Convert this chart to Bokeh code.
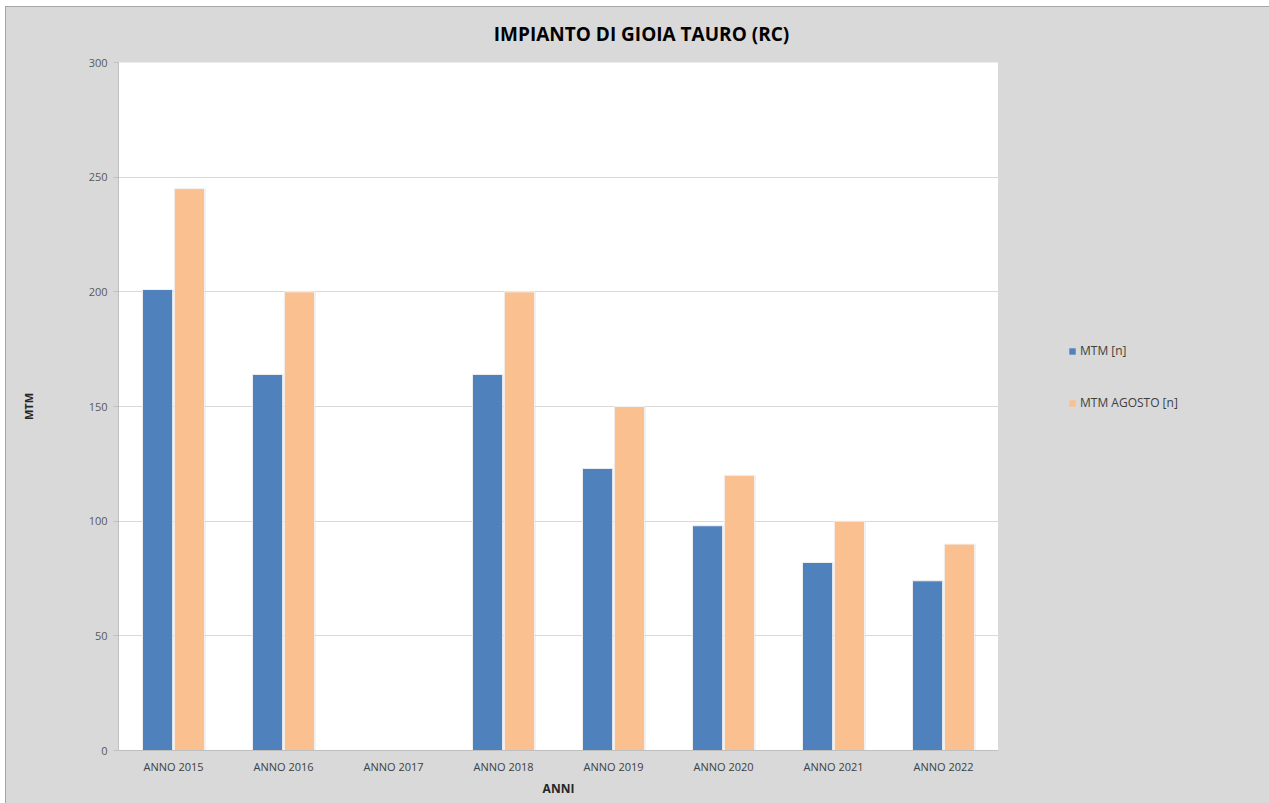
from bokeh.plotting import figure
from bokeh.layouts import row, column
from bokeh.models import (ColumnDataSource, Range1d, FixedTicker, Legend, LegendItem, Label)
from bokeh.transform import dodge
from bokeh.embed import file_html
from bokeh.resources import INLINE

# Data: yearly MTM counts at the Gioia Tauro plant
categories = ["ANNO 2015", "ANNO 2016", "ANNO 2017", "ANNO 2018",
              "ANNO 2019", "ANNO 2020", "ANNO 2021", "ANNO 2022"]
mtm = [201, 164, None, 164, 123, 98, 82, 74]
mtm_agosto = [245, 200, None, 200, 150, 120, 100, 90]
y_ticks = [0, 50, 100, 150, 200, 250, 300]
series_names = ["MTM [n]", "MTM AGOSTO [n]"]
chart_title = "IMPIANTO DI GIOIA TAURO (RC)"

BLUE = "#4f81bd"
ORANGE = "#fac090"
BG = "#d9d9d9"
FONT = "Open Sans"


def blank(width, height, x_end, y_end):
    """A bare, transparent figure used as a strip for text or legend."""
    f = figure(width=width, height=height, x_range=Range1d(0, x_end), y_range=Range1d(0, y_end),
               output_backend="svg", toolbar_location=None,
               min_border_left=0, min_border_right=0, min_border_top=0, min_border_bottom=0,
               background_fill_alpha=0, border_fill_alpha=0, outline_line_color=None)
    f.axis.visible = False
    f.grid.visible = False
    return f


# title strip across the full chart width
head = blank(1263, 47, 1263, 47)
head.add_layout(Label(x=635, y=21, text=chart_title, text_align="center",
                      text_baseline="middle", text_font=FONT, text_font_style="bold",
                      text_font_size="19px", text_color="#000000"))

source = ColumnDataSource(dict(anni=categories, mtm=mtm, agosto=mtm_agosto))

p = figure(x_range=categories, y_range=Range1d(0, 300),
           width=992, height=749, output_backend="svg", toolbar_location=None,
           min_border_left=112, min_border_right=0, min_border_top=8, min_border_bottom=53,
           background_fill_color="white", border_fill_alpha=0,
           outline_line_color=None)

# soft shadows behind bars
p.vbar(x=dodge("anni", -0.14, range=p.x_range), top="mtm", width=0.29, source=source,
       fill_color="#000000", fill_alpha=0.06, line_color=None)
p.vbar(x=dodge("anni", 0.15, range=p.x_range), top="agosto", width=0.29, source=source,
       fill_color="#000000", fill_alpha=0.06, line_color=None)

p.vbar(x=dodge("anni", -0.145, range=p.x_range), top="mtm", width=0.275, source=source,
       fill_color=BLUE, line_color="#f2f2f2", line_width=1)
p.vbar(x=dodge("anni", 0.145, range=p.x_range), top="agosto", width=0.275, source=source,
       fill_color=ORANGE, line_color="#f2f2f2", line_width=1)

# axes
p.yaxis.ticker = FixedTicker(ticks=y_ticks)
p.yaxis.minor_tick_line_color = None
p.yaxis.major_tick_out = 5
p.yaxis.major_tick_in = 0
p.yaxis.major_tick_line_color = "#bfbfbf"
p.yaxis.axis_line_color = "#bfbfbf"
p.yaxis.major_label_text_font = FONT
p.yaxis.major_label_text_font_size = "11px"
p.yaxis.major_label_text_color = "#595959"
p.yaxis.major_label_standoff = 6
p.yaxis.axis_label = "MTM"
p.yaxis.axis_label_text_font = FONT
p.yaxis.axis_label_text_font_style = "bold"
p.yaxis.axis_label_text_font_size = "11px"
p.yaxis.axis_label_text_color = "#262626"
p.yaxis.axis_label_standoff = 50

p.xaxis.major_tick_out = 0
p.xaxis.major_tick_in = 0
p.xaxis.axis_line_color = "#bfbfbf"
p.xaxis.major_label_text_font = FONT
p.xaxis.major_label_text_font_size = "11px"
p.xaxis.major_label_text_color = "#404040"
p.xaxis.major_label_standoff = 8
p.xaxis.axis_label = "ANNI"
p.xaxis.axis_label_text_font = FONT
p.xaxis.axis_label_text_font_style = "bold"
p.xaxis.axis_label_text_font_size = "12px"
p.xaxis.axis_label_text_color = "#262626"
p.xaxis.axis_label_standoff = 3

p.xgrid.grid_line_color = None
p.ygrid.grid_line_color = "#d9d9d9"
p.ygrid.grid_line_width = 1

# side strip holding the legend
side = blank(271, 749, 1, 1)
# key glyphs sit outside the visible range; only their legend swatches show
key_src = ColumnDataSource(dict(x=[5], top=[5]))
k1 = side.vbar(x="x", top="top", width=0.1, source=key_src, fill_color=BLUE, line_color=None)
k2 = side.vbar(x="x", top="top", width=0.1, source=key_src, fill_color=ORANGE, line_color=None)

legend = Legend(items=[LegendItem(label=series_names[0], renderers=[k1]),
                       LegendItem(label=series_names[1], renderers=[k2])],
                location=(70, 339), background_fill_alpha=0, border_line_color=None,
                padding=0, margin=0, glyph_width=8, glyph_height=8, label_height=12,
                spacing=35, label_standoff=4, label_text_font=FONT,
                label_text_font_size="12px", label_text_color="#404040")
side.add_layout(legend)

layout = column(head, row(p, side, spacing=0), spacing=0)
layout.margin = (6, 0, 0, 5)
layout.styles = {"border-top": "1px solid #a6a6a6", "border-left": "1px solid #a6a6a6",
                 "background-color": BG}

open("out.html", "w").write(file_html(layout, INLINE))
